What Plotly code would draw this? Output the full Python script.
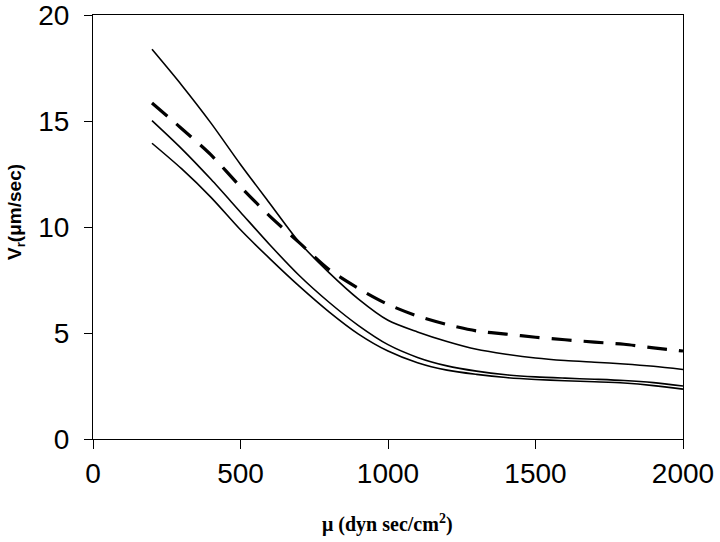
import plotly.graph_objects as go

mu = [200, 300, 400, 500, 600, 700, 800, 900, 1000, 1100, 1200, 1300, 1400,
      1500, 1600, 1700, 1800, 1900, 2000]
vr_top = [18.38, 16.7, 14.9, 12.95, 11.1, 9.27, 7.85, 6.6, 5.6, 5.05, 4.6, 4.23,
          4.0, 3.82, 3.7, 3.62, 3.54, 3.43, 3.28]
vr_dashed = [15.85, 14.65, 13.4, 11.9, 10.5, 9.25, 8.0, 7.1, 6.35, 5.8, 5.4, 5.1,
             4.95, 4.8, 4.68, 4.57, 4.47, 4.3, 4.15]
vr_mid = [15.02, 13.7, 12.25, 10.7, 9.15, 7.7, 6.45, 5.35, 4.45, 3.85, 3.45, 3.2,
          3.03, 2.93, 2.87, 2.82, 2.76, 2.66, 2.5]
vr_low = [13.95, 12.75, 11.4, 9.87, 8.5, 7.2, 6.0, 4.95, 4.15, 3.6, 3.25, 3.05,
          2.9, 2.81, 2.75, 2.7, 2.64, 2.52, 2.35]

x_ticks = [0, 500, 1000, 1500, 2000]
y_ticks = [0, 5, 10, 15, 20]

fig = go.Figure()
for ys in (vr_top, vr_mid, vr_low):
    fig.add_trace(go.Scatter(x=mu, y=ys, mode="lines",
                             line=dict(color="black", width=1.6, shape="spline", smoothing=0.8),
                             showlegend=False, hoverinfo="skip"))
fig.add_trace(go.Scatter(x=mu, y=vr_dashed, mode="lines",
                         line=dict(color="black", width=3.2, dash="20px,12px",
                                   shape="spline", smoothing=0.8),
                         showlegend=False, hoverinfo="skip"))

fig.update_layout(
    width=720, height=542,
    margin=dict(l=93, r=37, t=15, b=103, autoexpand=False),
    paper_bgcolor="white", plot_bgcolor="white",
    font=dict(family="Liberation Sans, Arial", color="black"),
    xaxis=dict(range=[0, 2000], tickvals=x_ticks, ticks="outside", ticklen=9,
               tickcolor="black", tickwidth=1, showline=True, linecolor="black",
               linewidth=1, mirror=True, showgrid=False, zeroline=False,
               tickfont=dict(size=28, family="Liberation Sans, Arial"),
               ticklabeloverflow="allow", automargin=False),
    yaxis=dict(range=[0, 20], tickvals=y_ticks, ticks="outside", ticklen=8,
               tickcolor="black", tickwidth=1, showline=True, linecolor="black",
               linewidth=1, mirror=True, showgrid=False, zeroline=False,
               tickfont=dict(size=28, family="Liberation Sans, Arial"),
               ticklabelstandoff=9, ticklabeloverflow="allow", automargin=False),
    annotations=[
        dict(text="<b>V<sub>r</sub>(μm/sec)</b>", textangle=-90,
             xref="paper", yref="paper", x=-77 / 590, y=(439 - 212) / 424,
             xanchor="center", yanchor="middle", showarrow=False,
             font=dict(size=19, family="Liberation Sans, Arial")),
        dict(text="<b>μ (dyn sec/cm<sup>2</sup>)</b>",
             xref="paper", yref="paper", x=(387 - 93) / 590, y=-(523 - 439) / 424,
             xanchor="center", yanchor="middle", showarrow=False,
             font=dict(size=20, family="Liberation Serif, Times New Roman")),
    ],
)

fig.write_html("out.html", config={"displayModeBar": False},
               post_script="document.body.style.margin='0';document.body.style.overflow='hidden';")
